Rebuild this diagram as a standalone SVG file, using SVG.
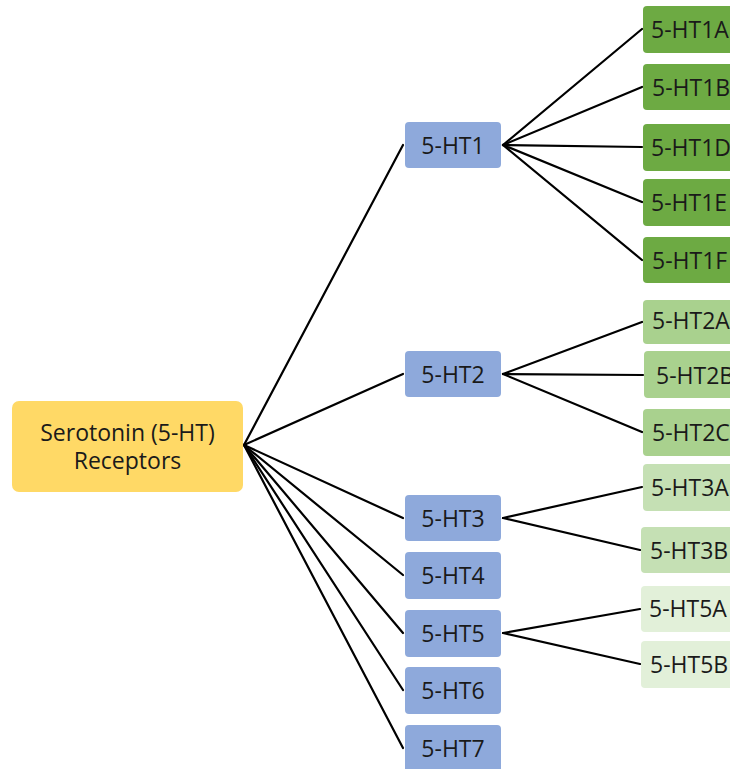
<svg xmlns="http://www.w3.org/2000/svg" width="730" height="769" viewBox="0 0 730 769">
  <style>
    .lbl { font-family: "Open Sans", "Noto Sans", "Liberation Sans", sans-serif; font-size: 23px; fill: #1a1a1a; text-anchor: middle; dominant-baseline: central; }
    .leaf .lbl { text-anchor: start; }
    .root rect { fill: #FFD966; }
    .mid rect { fill: #8EA9DB; }
    .g1 rect { fill: #6DAA43; }
    .g2 rect { fill: #A9D18E; }
    .g3 rect { fill: #C5E0B4; }
    .g5 rect { fill: #E2F0D9; }
    #connectors line { stroke: #000; stroke-width: 2.2; stroke-linecap: round; }
  </style>
  <rect width="730" height="769" fill="#fff"/>

  <g id="connectors">
    <!-- root to subfamilies -->
    <line x1="244" y1="445" x2="403" y2="145"/>
    <line x1="244" y1="445" x2="403" y2="374"/>
    <line x1="244" y1="445" x2="403" y2="518"/>
    <line x1="244" y1="445" x2="403" y2="575"/>
    <line x1="244" y1="445" x2="403" y2="633"/>
    <line x1="244" y1="445" x2="403" y2="690"/>
    <line x1="244" y1="445" x2="403" y2="748"/>
    <!-- 5-HT1 subtypes -->
    <line x1="503" y1="145" x2="642" y2="29"/>
    <line x1="503" y1="145" x2="642" y2="87"/>
    <line x1="503" y1="145" x2="642" y2="147"/>
    <line x1="503" y1="145" x2="642" y2="202"/>
    <line x1="503" y1="145" x2="642" y2="260"/>
    <!-- 5-HT2 subtypes -->
    <line x1="503" y1="374" x2="642" y2="322"/>
    <line x1="503" y1="374" x2="643" y2="375"/>
    <line x1="503" y1="374" x2="642" y2="432"/>
    <!-- 5-HT3 subtypes -->
    <line x1="503" y1="518" x2="642" y2="487"/>
    <line x1="503" y1="518" x2="640" y2="550"/>
    <!-- 5-HT5 subtypes -->
    <line x1="503" y1="633" x2="640" y2="609"/>
    <line x1="503" y1="633" x2="640" y2="664"/>
  </g>

  <g id="root" class="root">
    <rect x="12" y="401" width="231" height="91" rx="7"/>
    <text class="lbl" x="127.5" y="432">Serotonin (5-HT)</text>
    <text class="lbl" x="127.5" y="460">Receptors</text>
  </g>

  <g id="ht1" class="mid"><rect x="405" y="122" width="96" height="46" rx="4"/><text class="lbl" x="453" y="145">5-HT1</text></g>
  <g id="ht2" class="mid"><rect x="405" y="351" width="96" height="46" rx="4"/><text class="lbl" x="453" y="374">5-HT2</text></g>
  <g id="ht3" class="mid"><rect x="405" y="495" width="96" height="46" rx="4"/><text class="lbl" x="453" y="518">5-HT3</text></g>
  <g id="ht4" class="mid"><rect x="405" y="552" width="96" height="47" rx="4"/><text class="lbl" x="453" y="575">5-HT4</text></g>
  <g id="ht5" class="mid"><rect x="405" y="610" width="96" height="47" rx="4"/><text class="lbl" x="453" y="633">5-HT5</text></g>
  <g id="ht6" class="mid"><rect x="405" y="667" width="96" height="47" rx="4"/><text class="lbl" x="453" y="690">5-HT6</text></g>
  <g id="ht7" class="mid"><rect x="405" y="725" width="96" height="47" rx="4"/><text class="lbl" x="453" y="748">5-HT7</text></g>

  <g id="ht1a" class="leaf g1"><rect x="643" y="6" width="100" height="47" rx="4"/><text class="lbl" x="651" y="29">5-HT1A</text></g>
  <g id="ht1b" class="leaf g1"><rect x="643" y="64" width="100" height="46" rx="4"/><text class="lbl" x="652" y="87">5-HT1B</text></g>
  <g id="ht1d" class="leaf g1"><rect x="643" y="124" width="100" height="47" rx="4"/><text class="lbl" x="651" y="147">5-HT1D</text></g>
  <g id="ht1e" class="leaf g1"><rect x="643" y="179" width="100" height="47" rx="4"/><text class="lbl" x="651" y="202">5-HT1E</text></g>
  <g id="ht1f" class="leaf g1"><rect x="643" y="237" width="100" height="46" rx="4"/><text class="lbl" x="652" y="260">5-HT1F</text></g>

  <g id="ht2a" class="leaf g2"><rect x="643" y="300" width="100" height="44" rx="4"/><text class="lbl" x="652" y="320">5-HT2A</text></g>
  <g id="ht2b" class="leaf g2"><rect x="644" y="351" width="100" height="47" rx="4"/><text class="lbl" x="656" y="375">5-HT2B</text></g>
  <g id="ht2c" class="leaf g2"><rect x="643" y="409" width="100" height="47" rx="4"/><text class="lbl" x="652" y="432">5-HT2C</text></g>

  <g id="ht3a" class="leaf g3"><rect x="643" y="464" width="100" height="47" rx="4"/><text class="lbl" x="651" y="487">5-HT3A</text></g>
  <g id="ht3b" class="leaf g3"><rect x="641" y="527" width="100" height="46" rx="4"/><text class="lbl" x="650" y="550">5-HT3B</text></g>

  <g id="ht5a" class="leaf g5"><rect x="641" y="586" width="100" height="46" rx="4"/><text class="lbl" x="649" y="608">5-HT5A</text></g>
  <g id="ht5b" class="leaf g5"><rect x="641" y="641" width="100" height="47" rx="4"/><text class="lbl" x="650" y="664">5-HT5B</text></g>
</svg>
